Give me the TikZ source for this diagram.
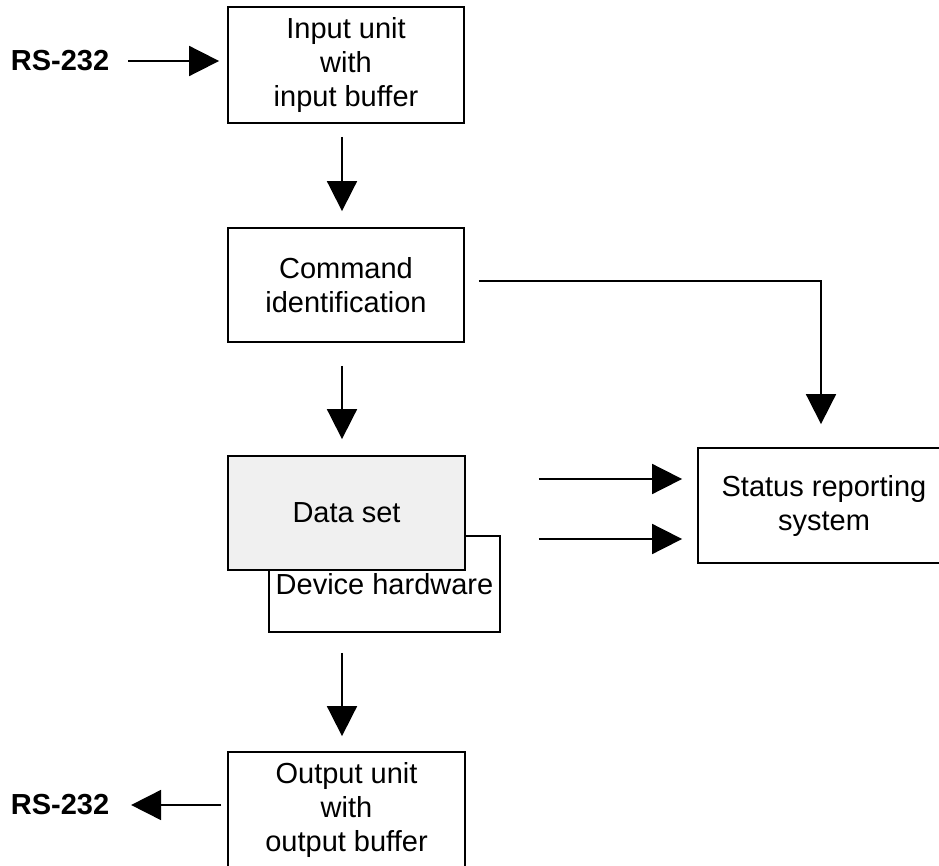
\documentclass[tikz,border=0pt]{standalone}
\usepackage{fontspec}
\setmainfont{Liberation Sans}
\usetikzlibrary{arrows.meta,calc}
\definecolor{dsgray}{RGB}{240,240,240}
\begin{document}
\begin{tikzpicture}[x=1pt,y=-1pt,
  box/.style={draw,line width=1.8pt,inner sep=0pt,align=center,
    font=\fontsize{29}{34}\selectfont},
  flow/.style={line width=1.8pt,-{Triangle[length=30pt,width=30pt]}},
  ext/.style={font=\bfseries\fontsize{29}{34}\selectfont}]
\useasboundingbox (0,0) rectangle (939,866);
\clip (0,0) rectangle (939,866);

% blocks
\node[box,minimum width=236pt,minimum height=116pt] (in) at (346,65)
  {Input unit\\with\\input buffer};
\node[box,minimum width=236pt,minimum height=114pt] (cmd) at (346,285)
  {Command\\identification};
\node[box,minimum width=231pt,minimum height=96pt] (hw) at (384.5,584)
  {\raisebox{-8pt}{Device hardware}};
\node[box,fill=dsgray,minimum width=237pt,minimum height=114pt] (ds) at (346.5,513)
  {Data set};
\node[box,minimum width=252pt,minimum height=115pt] (st) at (824,505.5)
  {Status reporting\\system};
\node[box,minimum width=237pt,minimum height=116pt] (out) at (346.5,810)
  {Output unit\\with\\output buffer};

% external interface labels
\node[ext] (rsin) at (60,61) {RS-232};
\node[ext] (rsout) at (60,805) {RS-232};

% connectors
\draw[flow] ($(in.west)+(-99,-4)$) -- ($(in.west)+(-8,-4)$);
\draw[flow] ($(in.south)+(-4,13)$) -- ($(cmd.north)+(-4,-16)$);
\draw[flow] ($(cmd.south)+(-4,23)$) -- ($(ds.north)+(-4.5,-16)$);
\draw[flow] ($(cmd.east)+(14,-4)$) -| ($(st.north)+(-3,-23)$);
\draw[flow] ($(ds.east)+(73,-34)$) -- ($(st.west)+(-15,-26.5)$);
\draw[flow] ($(ds.east)+(73,26)$) -- ($(st.west)+(-15,33.5)$);
\draw[flow] ($(hw.south)+(-42.5,20)$) -- ($(out.north)+(-4.5,-15)$);
\draw[flow] ($(out.west)+(-6,-5)$) -- ($(out.west)+(-96,-5)$);
\end{tikzpicture}
\end{document}
